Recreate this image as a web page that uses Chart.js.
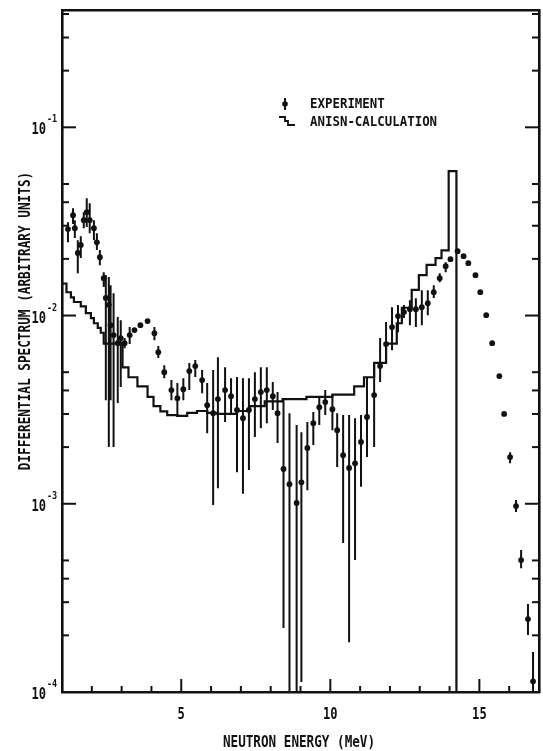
<!DOCTYPE html>
<html>
<head>
<meta charset="utf-8">
<script src="https://cdn.jsdelivr.net/npm/chart.js@4.4.0/dist/chart.umd.min.js"></script>
<style>
  html, body { margin: 0; padding: 0; background: #fff; }
</style>
</head>
<body>
<canvas id="spectrumChart" width="543" height="751"></canvas>
<script>
// experiment: energy (MeV), spectrum value, error bar bottom / top
const expEnergy = [1.20,1.37,1.43,1.53,1.63,1.73,1.83,1.93,2.07,2.17,
  2.27,2.40,2.47,2.57,2.63,2.73,2.87,2.97,3.10,3.27,
  3.43,3.63,3.87,4.10,4.23,4.43,4.67,4.87,5.07,5.27,
  5.47,5.70,5.87,6.07,6.23,6.47,6.67,6.87,7.07,7.27,
  7.47,7.67,7.87,8.07,8.23,8.43,8.63,8.87,9.03,9.23,
  9.43,9.63,9.83,10.07,10.23,10.43,10.63,10.83,11.03,11.23,
  11.47,11.67,11.87,12.07,12.27,12.47,12.67,12.87,13.07,13.27,
  13.47,13.67,13.87,14.03,14.27,14.47,14.63,14.87,15.03,15.23,
  15.43,15.67,15.83,16.03,16.23,16.40,16.63,16.80];
const expValue = [0.0288,0.0341,0.0291,0.0215,0.0237,0.0321,0.0354,0.0321,0.0291,0.0245,
  0.0204,0.0158,0.0124,0.0114,0.00889,0.00787,0.00713,0.00759,0.00713,0.00787,
  0.00837,0.00889,0.00934,0.00806,0.00639,0.00500,0.00402,0.00364,0.00406,0.00507,
  0.00539,0.00454,0.00334,0.00303,0.00360,0.00402,0.00373,0.00315,0.00285,0.00315,
  0.00360,0.00392,0.00402,0.00373,0.00303,0.00153,0.00127,0.00101,0.00130,0.00198,
  0.00268,0.00326,0.00347,0.00318,0.00246,0.00181,0.00155,0.00164,0.00213,0.00289,
  0.00378,0.00539,0.00705,0.00868,0.00993,0.01043,0.01081,0.01081,0.01108,0.01164,
  0.01331,0.0158,0.01829,0.01993,0.02198,0.02068,0.01898,0.01639,0.01331,0.01005,
  0.00713,0.00477,0.00300,0.00177,0.000972,0.000502,0.000244,0.000114];
const expLow = [0.0245,0.0306,0.0258,0.0168,0.0202,0.0291,0.0295,0.0274,0.0251,0.0223,
  0.0185,0.0142,0.00355,0.00200,0.00355,0.00200,0.00343,0.00417,0.00671,0.00705,
  0.00837,0.00889,0.00934,0.00740,0.00594,0.00465,0.00355,0.00289,0.00355,0.00402,
  0.00471,0.00387,0.00237,0.000984,0.00121,0.00272,0.00296,0.00147,0.00113,0.00151,
  0.00226,0.00252,0.00268,0.00315,0.00210,0.000219,0.00005,0.00005,0.000113,0.00118,
  0.00205,0.00262,0.00296,0.00246,0.00157,0.000618,0.000184,0.000502,0.00123,0.00177,
  0.00200,0.00443,0.00559,0.00655,0.00816,0.00969,0.00889,0.00868,0.00889,0.01005,
  0.0124,0.01504,0.0170,0.01993,0.02198,0.02068,0.01898,0.01639,0.01331,0.01005,
  0.00713,0.00477,0.00300,0.00164,0.000904,0.000455,0.000201,0.00009];
const expHigh = [0.0313,0.0372,0.0321,0.0251,0.0264,0.0354,0.0420,0.0395,0.0321,0.0274,
  0.0223,0.0170,0.0164,0.0160,0.0145,0.01315,0.00981,0.00945,0.00759,0.00868,
  0.00837,0.00889,0.00934,0.00868,0.00688,0.00545,0.00454,0.00438,0.00465,0.00559,
  0.00580,0.00513,0.00438,0.00513,0.00601,0.00532,0.00465,0.00471,0.00465,0.00465,
  0.00500,0.00532,0.00532,0.00443,0.00392,0.00355,0.00303,0.00262,0.00240,0.00272,
  0.00307,0.00369,0.00402,0.00378,0.00303,0.00296,0.00296,0.00285,0.00296,0.00471,
  0.00559,0.00759,0.00923,0.01108,0.01136,0.01136,0.01207,0.01237,0.01364,0.01364,
  0.0145,0.0168,0.01922,0.01993,0.02198,0.02068,0.01898,0.01639,0.01331,0.01005,
  0.00713,0.00477,0.00300,0.00188,0.001046,0.000568,0.000293,0.000163];

// ANISN calculation: group boundaries (MeV) and group values
const calcEdges = [1.0,1.15,1.3,1.4,1.63,1.8,1.97,2.07,2.2,2.3,2.4,3.03,3.23,3.53,3.87,4.07,4.3,4.53,4.87,5.2,
  5.53,5.87,6.2,6.87,7.3,7.8,8.4,9.2,10.07,10.8,11.13,11.47,11.87,12.23,12.4,12.73,12.97,13.23,13.53,13.73,13.97,14.23];
const calcValues = [0.0148,0.0133,0.0125,0.0118,0.0112,0.0103,0.0097,0.0091,0.0086,0.0081,
  0.0071,0.0053,0.0047,0.0042,0.0037,0.0033,0.0031,0.00296,0.00293,0.00304,
  0.00311,0.00304,0.0030,0.00311,0.0033,0.0035,0.0036,0.0037,0.0038,0.0042,
  0.0047,0.0056,0.0071,0.0091,0.0110,0.0137,0.0164,0.0186,0.0202,0.0222,0.0585];

const xTickLabels = [5, 10, 15];
const yDecades = [-1, -2, -3, -4];
const xTitle = 'NEUTRON ENERGY (MeV)';
const yTitle = 'DIFFERENTIAL SPECTRUM (ARBITRARY UNITS)';
const legendLabels = ['EXPERIMENT', 'ANISN-CALCULATION'];

const INK = '#111';
const X_MIN = 1, X_MAX = 17, Y_MIN = 1e-4, Y_MAX = 0.42;
const FONT = '"DejaVu Sans Mono", "Liberation Mono", monospace';

// histogram corners
const calcPoints = [];
calcValues.forEach((v, i) => {
    calcPoints.push({x: calcEdges[i], y: v});
    calcPoints.push({x: calcEdges[i + 1], y: v});
});
calcPoints.push({x: calcEdges[calcEdges.length - 1], y: Y_MIN});

// error bars as broken line segments
const barPoints = [];
expEnergy.forEach((e, i) => {
    if (expHigh[i] > expLow[i]) {
        barPoints.push({x: e, y: expLow[i]}, {x: e, y: expHigh[i]}, {x: e, y: null});
    }
});

const expPoints = expEnergy.map((e, i) => ({x: e, y: expValue[i]}));

function condensed(ctx, text, x, y, size, sx, align, rot) {
    ctx.save();
    ctx.font = 'bold ' + size + 'px ' + FONT;
    ctx.translate(x, y);
    if (rot) ctx.rotate(rot);
    ctx.scale(sx, 1);
    ctx.textAlign = align;
    ctx.textBaseline = 'alphabetic';
    ctx.fillText(text, 0, 0);
    ctx.restore();
}

function seg(ctx, x1, y1, x2, y2) {
    ctx.beginPath();
    ctx.moveTo(x1, y1);
    ctx.lineTo(x2, y2);
    ctx.stroke();
}

const decorations = {
    id: 'decorations',
    afterDraw(chart) {
        const {ctx, chartArea: a, scales: {x, y}} = chart;
        ctx.save();
        ctx.strokeStyle = INK;
        ctx.fillStyle = INK;
        ctx.lineWidth = 2;

        // inward ticks, left and right
        for (let e = -4; e <= 0; e++) {
            [1, 2, 3, 4, 5].forEach(m => {
                const v = m * Math.pow(10, e);
                if (v <= Y_MIN || v >= Y_MAX) return;
                const py = y.getPixelForValue(v);
                const len = m === 1 ? 14 : 7;
                seg(ctx, a.left, py, a.left + len, py);
                seg(ctx, a.right - len, py, a.right, py);
            });
        }
        // inward ticks, bottom
        for (let e = X_MIN + 1; e < X_MAX; e++) {
            const px = x.getPixelForValue(e);
            const len = e % 5 === 0 ? 13 : 6;
            seg(ctx, px, a.bottom, px, a.bottom - len);
        }

        // tick labels
        xTickLabels.forEach(v => {
            condensed(ctx, String(v), x.getPixelForValue(v), 719, 15.5, 0.78, 'center');
        });
        yDecades.forEach(d => {
            const py = y.getPixelForValue(Math.pow(10, d));
            condensed(ctx, '10', 46, py + 7, 15.5, 0.78, 'right');
            condensed(ctx, '-' + Math.abs(d), 47, py - 5, 10, 0.85, 'left');
        });

        // axis titles
        condensed(ctx, xTitle, 299, 747, 15.5, 0.815, 'center');
        condensed(ctx, yTitle, 29.5, 321, 15.5, 0.82, 'center', -Math.PI / 2);

        // legend
        ctx.lineWidth = 2;
        seg(ctx, 285, 98, 285, 110);
        ctx.beginPath();
        ctx.arc(285, 104, 2.8, 0, Math.PI * 2);
        ctx.fill();
        condensed(ctx, legendLabels[0], 310, 108.3, 13.8, 0.9, 'left');
        ctx.lineWidth = 1.8;
        ctx.beginPath();
        ctx.moveTo(279, 117);
        ctx.lineTo(285, 117);
        ctx.lineTo(285, 121);
        ctx.lineTo(288, 121);
        ctx.lineTo(288, 125);
        ctx.lineTo(295, 125);
        ctx.stroke();
        condensed(ctx, legendLabels[1], 310, 125.7, 13.8, 0.9, 'left');
        ctx.restore();
    }
};

const hiddenAxis = (pos, size, type) => ({
    type: type,
    position: pos,
    min: type === 'logarithmic' ? Y_MIN : X_MIN,
    max: type === 'logarithmic' ? Y_MAX : X_MAX,
    grid: {display: false, drawTicks: false},
    border: {display: true, color: INK, width: 2.6},
    ticks: {display: false},
    afterFit: s => {
        if (pos === 'left' || pos === 'right') s.width = size; else s.height = size;
    }
});

new Chart(document.getElementById('spectrumChart').getContext('2d'), {
    type: 'scatter',
    data: {
        datasets: [
            {
                type: 'line',
                label: 'error',
                data: barPoints,
                borderColor: INK,
                borderWidth: 2,
                pointRadius: 0,
                spanGaps: false,
                xAxisID: 'x',
                yAxisID: 'y'
            },
            {
                type: 'line',
                label: legendLabels[1],
                data: calcPoints,
                borderColor: INK,
                borderWidth: 2.2,
                pointRadius: 0,
                tension: 0,
                xAxisID: 'x',
                yAxisID: 'y'
            },
            {
                type: 'scatter',
                label: legendLabels[0],
                data: expPoints,
                backgroundColor: INK,
                borderColor: INK,
                borderWidth: 0,
                pointRadius: 2.9,
                xAxisID: 'x',
                yAxisID: 'y'
            }
        ]
    },
    options: {
        responsive: false,
        animation: false,
        events: [],
        layout: {padding: 0},
        plugins: {
            legend: {display: false},
            tooltip: {enabled: false}
        },
        scales: {
            x: hiddenAxis('bottom', 59, 'linear'),
            xTop: hiddenAxis('top', 10, 'linear'),
            y: hiddenAxis('left', 62, 'logarithmic'),
            yRight: hiddenAxis('right', 1, 'logarithmic')
        }
    },
    plugins: [decorations]
});
</script>
</body>
</html>
